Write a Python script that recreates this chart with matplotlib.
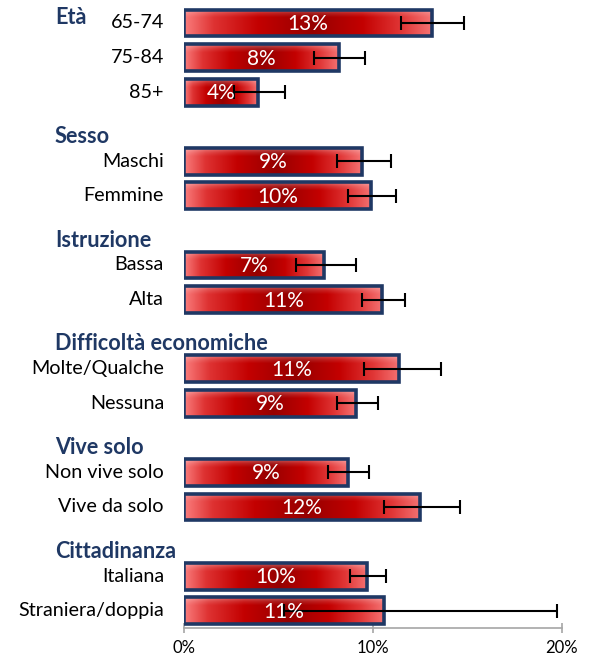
import numpy as np
import matplotlib
matplotlib.use("Agg")
import matplotlib.pyplot as plt
from matplotlib.transforms import blended_transform_factory

groups = ['Età', 'Sesso', 'Istruzione', 'Difficoltà economiche', 'Vive solo', 'Cittadinanza']
group_sizes = [3, 2, 2, 2, 2, 2]
categories = ['65-74', '75-84', '85+', 'Maschi', 'Femmine', 'Bassa', 'Alta',
              'Molte/Qualche', 'Nessuna', 'Non vive solo', 'Vive da solo',
              'Italiana', 'Straniera/doppia']
values = [13.1, 8.2, 3.9, 9.4, 9.9, 7.4, 10.5, 11.4, 9.1, 8.7, 12.5, 9.7, 10.6]
ci_low = [11.5, 6.9, 2.65, 8.1, 8.7, 5.95, 9.4, 9.5, 8.1, 7.6, 10.6, 8.8, 5.3]
ci_high = [14.8, 9.6, 5.35, 10.95, 11.2, 9.1, 11.7, 13.6, 10.25, 9.8, 14.6, 10.7, 19.75]
bar_labels = ['13%', '8%', '4%', '9%', '10%', '7%', '11%', '11%', '9%', '9%', '12%', '10%', '11%']
x_ticks = [0, 10, 20]
x_ticklabels = ['0%', '10%', '20%']

FONT = 'Lato'
NAVY = '#1f3864'

# layout positions
ypos = []
header_y = []
slot = 0
for gi, n in enumerate(group_sizes):
    header_y.append(slot - (0.17 if gi == 0 else 0.72))
    for k in range(n):
        ypos.append(slot)
        slot += 1
    slot += 1

fig = plt.figure(figsize=(5.93, 6.59), dpi=100)
ax = fig.add_axes([184 / 593, 1 - 628 / 659, 378 / 593, (628 - 5.7) / 659])

# gradient image
stops_x = [0.0, 0.12, 0.3, 0.52, 0.72, 0.88, 1.0]
stops_c = np.array([(250, 125, 125), (222, 50, 50), (195, 0, 0), (150, 0, 0),
                    (195, 0, 0), (225, 55, 55), (245, 115, 115)]) / 255.0
nx, ny = 256, 32
xs = np.linspace(0, 1, nx)
row = np.stack([np.interp(xs, stops_x, stops_c[:, c]) for c in range(3)], axis=-1)
vy = np.linspace(0, 1, ny)
light = np.interp(vy, [0, 0.15, 0.3, 1], [0.35, 0.12, 0.0, 0.0])
grad = row[None, :, :] * (1 - light[:, None, None]) + light[:, None, None] * 1.0
grad = np.clip(grad, 0, 1)

h = 0.78
bars = ax.barh(ypos, values, height=h, facecolor='none', edgecolor=NAVY, linewidth=2.6, zorder=3)
for b, v, y in zip(bars, values, ypos):
    im = ax.imshow(grad, extent=(0, v, y + h / 2, y - h / 2), aspect='auto',
                   interpolation='bilinear', zorder=2)
    im.set_clip_path(b)

ax.errorbar(values, ypos,
            xerr=[np.array(values) - np.array(ci_low), np.array(ci_high) - np.array(values)],
            fmt='none', ecolor='black', elinewidth=1.5, capsize=5, capthick=1.5, zorder=4)

for v, y, t in zip(values, ypos, bar_labels):
    ax.text(v / 2, y + 0.03, t, ha='center', va='center', color='white',
            fontsize=15, family=FONT, zorder=5)

tr = blended_transform_factory(fig.transFigure, ax.transData)
for y, c in zip(ypos, categories):
    ax.text(164 / 593, y, c, transform=tr, ha='right', va='center',
            fontsize=14.2, family=FONT, color='black')
for y, g in zip(header_y, groups):
    ax.text(55 / 593, y, g, transform=tr, ha='left', va='center',
            fontsize=15.6, family=FONT, color=NAVY, fontweight='bold')

ax.set_xlim(0, 20)
ax.set_ylim(17.5, -0.5)
ax.set_yticks([])
ax.set_xticks(x_ticks)
ax.set_xticklabels(x_ticklabels, family=FONT, fontsize=12)
for s in ['top', 'right', 'left']:
    ax.spines[s].set_visible(False)
ax.spines['bottom'].set_color('#a6a6a6')
ax.spines['bottom'].set_linewidth(1.2)
ax.tick_params(axis='x', direction='inout', length=7, color='#a6a6a6', width=1.2, pad=5)
ax.set_facecolor('none')

fig.savefig('out.png', dpi=100)
